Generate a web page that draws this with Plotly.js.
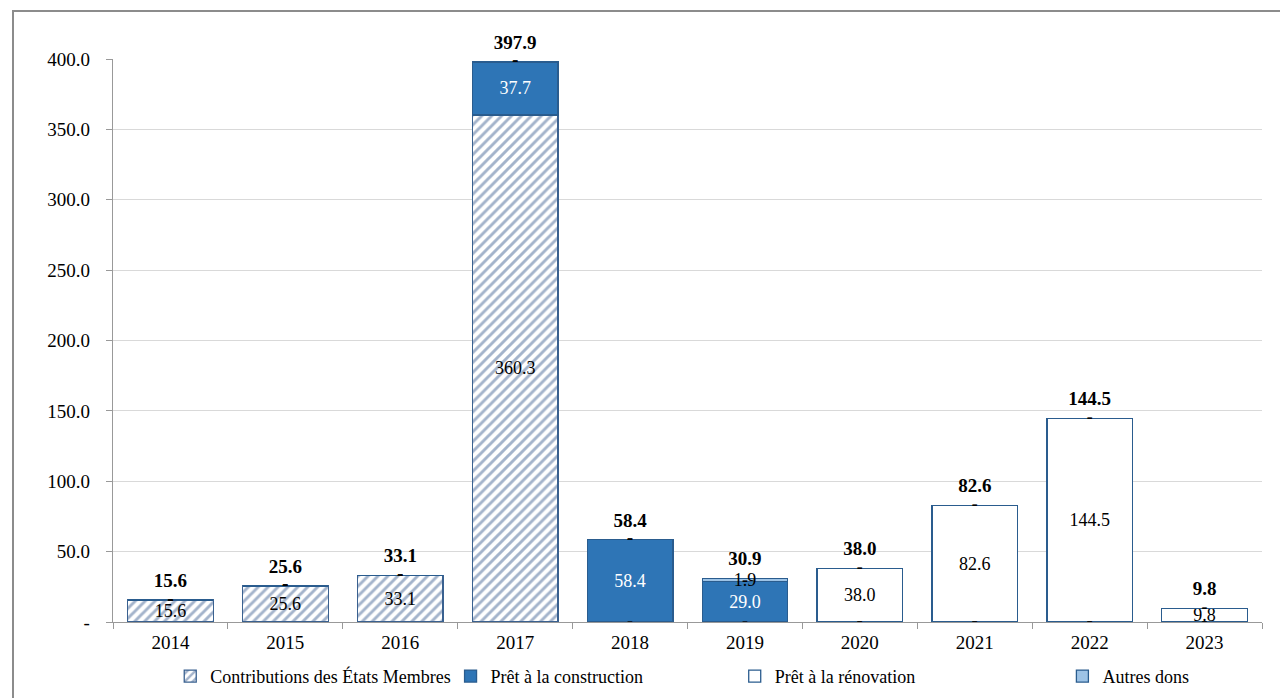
<!DOCTYPE html>
<html>
<head>
<meta charset="utf-8">
<script src="https://cdn.plot.ly/plotly-3.0.1.min.js"></script>
<style>
html,body{margin:0;padding:0;background:#fff;}
#frame{position:absolute;left:12px;top:10px;width:1268px;height:688px;border-top:2px solid #8c8c8c;border-left:2px solid #8c8c8c;box-sizing:border-box;pointer-events:none;z-index:5;}
#chart{position:absolute;left:0;top:0;width:1280px;height:698px;}
</style>
</head>
<body>
<div id="chart"></div>
<div id="frame"></div>
<script>
const years = ['2014','2015','2016','2017','2018','2019','2020','2021','2022','2023'];
const contributions = [15.6, 25.6, 33.1, 360.26, 0, 0, 0, 0, 0, 0];
const construction = [0, 0, 0, 37.66, 58.4, 29.0, 0, 0, 0, 0];
const renovation = [0, 0, 0, 0, 0, 0, 38.0, 82.6, 144.5, 9.8];
const autresDons = [0, 0, 0, 0, 0, 1.9, 0, 0, 0, 0];
const seriesNames = ['Contributions des États Membres', 'Prêt à la construction', 'Prêt à la rénovation', 'Autres dons'];
const yTickVals = [0, 50, 100, 150, 200, 250, 300, 350, 400];
const yTickText = ['-', '50.0', '100.0', '150.0', '200.0', '250.0', '300.0', '350.0', '400.0'];

const FONT = '"Liberation Serif", "Times New Roman", serif';
const fmt = v => v === 0 ? '' : v.toFixed(1);

const allSeries = [contributions, construction, renovation, autresDons];
const totals = years.map((_, i) => allSeries.reduce((s, a) => s + a[i], 0));

// zero-value dash labels at the base of each zero segment
const dashX = [], dashY = [];
years.forEach((y, i) => {
  let base = 0;
  allSeries.forEach(arr => {
    if (arr[i] === 0) { dashX.push(y); dashY.push(base); }
    base += arr[i];
  });
});

const common = {type: 'bar', x: years, textposition: 'inside', insidetextanchor: 'middle',
  constraintext: 'none', cliponaxis: false, hoverinfo: 'skip'};

const traces = [
  Object.assign({}, common, {
    name: seriesNames[0], y: contributions, text: contributions.map(fmt),
    textfont: {family: FONT, size: 18, color: '#000'},
    marker: {color: '#ffffff', line: {color: '#3a6190', width: 1.3},
      pattern: {shape: '/', fgcolor: '#a3b3cb', bgcolor: '#ffffff', size: 7, solidity: 0.42}},
    legend: 'legend'
  }),
  Object.assign({}, common, {
    name: seriesNames[1], y: construction, text: construction.map(fmt),
    textfont: {family: FONT, size: 18, color: '#ffffff'},
    marker: {color: '#2e75b6', line: {color: '#2a5c8e', width: 1.3}},
    legend: 'legend2'
  }),
  Object.assign({}, common, {
    name: seriesNames[2], y: renovation, text: renovation.map(fmt),
    textfont: {family: FONT, size: 18, color: '#000'},
    marker: {color: '#ffffff', line: {color: '#2a5c8e', width: 1.3}},
    legend: 'legend3'
  }),
  Object.assign({}, common, {
    name: seriesNames[3], y: autresDons, text: autresDons.map(fmt),
    textfont: {family: FONT, size: 18, color: '#000'},
    marker: {color: '#9dc3e6', line: {color: '#2a5c8e', width: 1.3}},
    legend: 'legend4'
  }),
  {
    type: 'scatter', mode: 'text', x: dashX, y: dashY, text: dashX.map(() => '<b>-</b>'),
    textposition: 'middle center', textfont: {family: FONT, size: 18, color: '#000'},
    showlegend: false, hoverinfo: 'skip', cliponaxis: false
  },
  {
    type: 'scatter', mode: 'markers+text', x: years, y: totals,
    text: totals.map(v => '<b>' + v.toFixed(1) + '</b>'),
    marker: {size: 12, opacity: 0},
    textposition: 'top center', textfont: {family: FONT, size: 19, color: '#000'},
    showlegend: false, hoverinfo: 'skip', cliponaxis: false
  }
];

const legendBase = {orientation: 'h', xref: 'container', yref: 'container', yanchor: 'middle',
  y: 0.031, bgcolor: 'rgba(0,0,0,0)', font: {family: FONT, size: 18, color: '#000'},
  itemwidth: 30, tracegroupgap: 0};

const layout = {
  width: 1280, height: 698,
  margin: {l: 113, r: 18, t: 59, b: 76},
  paper_bgcolor: '#ffffff', plot_bgcolor: '#ffffff',
  barmode: 'stack', bargap: 0.255,
  font: {family: FONT, size: 18, color: '#000'},
  xaxis: {type: 'category', range: [-0.5, 9.5], autorange: false,
    tickson: 'boundaries', ticks: 'outside', ticklen: 6,
    tickcolor: '#999999', showline: true, linecolor: '#999999', linewidth: 1.3,
    ticklabelstandoff: 3,
    showgrid: false, tickfont: {family: FONT, size: 19, color: '#000'}, fixedrange: true},
  yaxis: {range: [0, 400], autorange: false, tickvals: yTickVals, ticktext: yTickText, ticks: 'outside', ticklen: 6,
    tickcolor: '#999999', showline: true, linecolor: '#999999', linewidth: 1.3,
    ticklabelstandoff: 12,
    showgrid: true, gridcolor: '#d9d9d9', gridwidth: 1, zeroline: false,
    tickfont: {family: FONT, size: 19, color: '#000'}, fixedrange: true},
  showlegend: true,
  legend: Object.assign({}, legendBase, {x: 0.133, xanchor: 'left'}),
  legend2: Object.assign({}, legendBase, {x: 0.352, xanchor: 'left'}),
  legend3: Object.assign({}, legendBase, {x: 0.574, xanchor: 'left'}),
  legend4: Object.assign({}, legendBase, {x: 0.830, xanchor: 'left'})
};

Plotly.newPlot('chart', traces, layout, {displayModeBar: false, staticPlot: true});
</script>
</body>
</html>
